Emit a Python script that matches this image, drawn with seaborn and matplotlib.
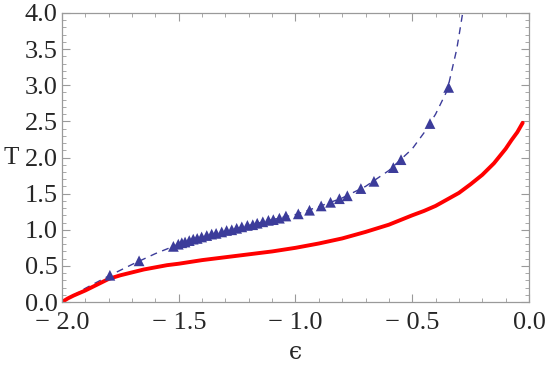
import numpy as np
import pandas as pd
import seaborn as sns
import matplotlib.pyplot as plt
from matplotlib.ticker import MultipleLocator, FuncFormatter

# red curve (dense numeric result)
eps_red = [-2.0, -1.975, -1.95, -1.9, -1.85, -1.8, -1.75, -1.7, -1.65, -1.6, -1.55, -1.5,
           -1.4, -1.3, -1.2, -1.1, -1.0, -0.9, -0.8, -0.7, -0.6, -0.5, -0.45, -0.4,
           -0.35, -0.3, -0.25, -0.2, -0.15, -0.1, -0.075, -0.05, -0.027]
T_red = [0.0, 0.05, 0.09, 0.16, 0.24, 0.32, 0.37, 0.41, 0.45, 0.48, 0.51, 0.53,
         0.58, 0.62, 0.66, 0.70, 0.75, 0.81, 0.88, 0.97, 1.07, 1.20, 1.26, 1.33,
         1.42, 1.51, 1.63, 1.76, 1.92, 2.12, 2.24, 2.35, 2.48]

# triangle data points
eps_tri = [-1.795, -1.67, -1.523, -1.502, -1.487, -1.473, -1.455, -1.438, -1.421,
           -1.402, -1.380, -1.359, -1.340, -1.316, -1.295, -1.273, -1.252, -1.230,
           -1.206, -1.183, -1.164, -1.140, -1.116, -1.095, -1.069, -1.041,
           -0.988, -0.94, -0.89, -0.85, -0.812, -0.778, -0.72, -0.664, -0.581,
           -0.548, -0.424, -0.344]
T_tri = [0.37, 0.57, 0.77, 0.80, 0.82, 0.83, 0.85, 0.87, 0.88,
         0.90, 0.92, 0.94, 0.95, 0.97, 0.99, 1.00, 1.02, 1.04,
         1.06, 1.07, 1.09, 1.11, 1.13, 1.14, 1.16, 1.19,
         1.22, 1.27, 1.33, 1.38, 1.43, 1.47, 1.57, 1.67, 1.86,
         1.97, 2.47, 2.97]

# dashed fit through the triangles
eps_fit = [-2.0, -1.9, -1.8, -1.7, -1.6, -1.5, -1.4, -1.3, -1.2, -1.1, -1.0,
           -0.9, -0.8, -0.7, -0.6, -0.5, -0.45, -0.4, -0.35, -0.31, -0.3, -0.284]
T_fit = [0.0, 0.19, 0.36, 0.52, 0.67, 0.80, 0.90, 0.98, 1.06, 1.14, 1.21,
         1.32, 1.44, 1.60, 1.82, 2.12, 2.34, 2.60, 2.93, 3.49, 3.68, 4.0]

df_red = pd.DataFrame({'eps': eps_red, 'T': T_red})
df_tri = pd.DataFrame({'eps': eps_tri, 'T': T_tri})
df_fit = pd.DataFrame({'eps': eps_fit, 'T': T_fit})

sns.set_style('ticks')
plt.rcParams['font.family'] = ['Liberation Serif', 'DejaVu Serif']

blue = '#3c3c9a'
frame = '#9a9a9a'

fig = plt.figure(figsize=(5.45, 3.68), dpi=100)
ax = fig.add_axes([0.1138, 0.1793, 0.8568, 0.7854])

sns.lineplot(data=df_fit, x='eps', y='T', ax=ax, color=blue, lw=1.0,
             estimator=None, sort=False, linestyle=(0, (5, 4)))
sns.lineplot(data=df_red, x='eps', y='T', ax=ax, color='#ff0000', lw=2.8,
             estimator=None, sort=False)
sns.scatterplot(data=df_tri, x='eps', y='T', ax=ax, color=blue, marker='^',
                s=60, edgecolor='none', zorder=3)

ax.set_xlim(-2.0, 0.0)
ax.set_ylim(0.0, 4.0)
ax.xaxis.set_major_locator(MultipleLocator(0.5))
ax.xaxis.set_minor_locator(MultipleLocator(0.1))
ax.yaxis.set_major_locator(MultipleLocator(0.5))
ax.yaxis.set_minor_locator(MultipleLocator(0.1))
fmt = FuncFormatter(lambda v, p: ('\u2212 %.1f' % abs(v)) if v < -1e-9 else '%.1f' % abs(v))
ax.xaxis.set_major_formatter(fmt)
ax.yaxis.set_major_formatter(fmt)

ax.tick_params(which='both', direction='in', top=True, right=True,
               color=frame, labelsize=19)
ax.tick_params(axis='x', which='major', pad=7)
ax.tick_params(axis='y', which='major', pad=3)
ax.tick_params(which='major', length=6, width=0.8)
ax.tick_params(which='minor', length=3, width=0.6)
for s in ax.spines.values():
    s.set_color(frame)
    s.set_linewidth(0.9)

ax.set_xlabel('\u03f5', fontsize=17, family=['DejaVu Serif'], labelpad=5)
ax.set_ylabel('T', fontsize=18, rotation=0, labelpad=10, va='center')

fig.savefig('out.png', dpi=100)
